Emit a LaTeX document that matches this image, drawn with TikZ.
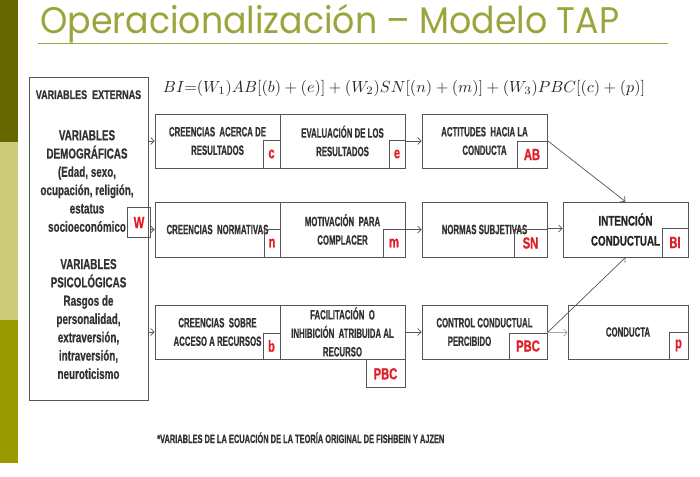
\documentclass[tikz,border=0pt]{standalone}
\usepackage{fontspec}
\usepackage{graphicx}
\usetikzlibrary{arrows.meta}
\newfontfamily\cndbox[FakeStretch=0.58,FakeBold=0.6]{Liberation Sans}
\newfontfamily\cndleft[FakeStretch=0.68,FakeBold=0.6]{Liberation Sans}
\newfontfamily\cndtop[FakeStretch=0.72,FakeBold=0.6]{Liberation Sans}
\newfontfamily\cndlbl[FakeStretch=0.70,FakeBold=0.8]{Liberation Sans}
\newfontfamily\cndfoot[FakeStretch=0.62,FakeBold=0.5]{Liberation Sans}
\newfontfamily\ttl[FakeStretch=0.94]{Poppins}
\definecolor{titlecol}{RGB}{155,165,60}
\definecolor{stripeA}{RGB}{102,102,0}
\definecolor{stripeB}{RGB}{204,204,120}
\definecolor{stripeC}{RGB}{153,153,0}
\definecolor{boxgray}{RGB}{85,85,85}
\definecolor{txtgray}{RGB}{50,50,50}
\definecolor{lblred}{RGB}{225,30,40}
\tikzset{
  box/.style={draw=boxgray, line width=0.8pt, inner sep=0pt, align=center, text=txtgray,
    font=\cndbox\bfseries\fontsize{13.5}{18.5}\selectfont},
  lbl/.style={draw=boxgray, line width=0.8pt, inner sep=0pt, text=lblred,
    font=\cndlbl\bfseries\fontsize{16}{16}\selectfont},
  plain/.style={inner sep=0pt, align=center, text=txtgray,
    font=\cndleft\bfseries\fontsize{14.5}{18.3}\selectfont},
  arr/.style={draw=boxgray, line width=0.7pt, -{Straight Barb[length=3.5pt,width=7pt]}},
}
\begin{document}
\begin{tikzpicture}[x=1pt,y=-1pt]
\fill[white] (0,0) rectangle (700,476);
\useasboundingbox (0,0) rectangle (700,476);
% side stripe
\fill[stripeA] (0,0) rectangle (18,142);
\fill[stripeB] (0,142) rectangle (18,320);
\fill[stripeC] (0,320) rectangle (18,463);
% title
\node[anchor=base west, inner sep=0pt, text=titlecol] (title) at (40,34)
  {\ttl\fontsize{37}{37}\selectfont Operacionalización – Modelo TAP};
\draw[titlecol, line width=1pt] (38,44) -- (668,44);
% equation
\node[inner sep=0pt, text=black!85] (eq) at (404,88)
  {\resizebox{482pt}{!}{$BI{=}(W_1)AB[(b)+(e)]+(W_2)SN[(n)+(m)]+(W_3)PBC[(c)+(p)]$}};
% left box
\node[box, minimum width=119pt, minimum height=323pt] (ext) at (88.5,238.5) {};
\node[plain, anchor=base, font=\cndtop\bfseries\fontsize{12.5}{12.5}\selectfont] (ext1) at (88.5,99) {VARIABLES\ \ EXTERNAS};
\node[plain] (ext2) at (87,181)
  {VARIABLES\\DEMOGRÁFICAS\\(Edad, sexo,\\ocupación, religión,\\estatus\\socioeconómico};
\node[plain] (ext3) at (88.5,319)
  {VARIABLES\\PSICOLÓGICAS\\Rasgos de\\personalidad,\\extraversión,\\intraversión,\\neuroticismo};
\node[lbl, minimum width=23pt, minimum height=30pt] (w) at (139,222.5) {W};
% row 1
\node[box, minimum width=125pt, minimum height=54pt] (r1a) at (217.5,141)
  {CREENCIAS\ \ ACERCA DE\\RESULTADOS};
\node[box, minimum width=125pt, minimum height=54pt] (r1b) at (342.5,141)
  {EVALUACIÓN DE LOS\\RESULTADOS};
\node[box, minimum width=125pt, minimum height=54pt] (ab) at (484.5,141)
  {ACTITUDES\ \ HACIA LA\\CONDUCTA};
\node[lbl, anchor=south east, minimum width=17pt, minimum height=28pt] (cl) at (r1a.south east) {c};
\node[lbl, anchor=south east, minimum width=16pt, minimum height=28pt] (el) at (r1b.south east) {e};
\node[lbl, anchor=south east, minimum width=30pt, minimum height=27pt] (abl) at (ab.south east) {AB};
% row 2
\node[box, minimum width=125pt, minimum height=55pt] (r2a) at (217.5,229.5)
  {CREENCIAS\ \ NORMATIVAS};
\node[box, minimum width=125pt, minimum height=55pt] (r2b) at (342.5,229.5)
  {MOTIVACIÓN\ \ PARA\\COMPLACER};
\node[box, minimum width=125pt, minimum height=55pt] (sn) at (484.5,229.5)
  {NORMAS SUBJETIVAS};
\node[box, minimum width=125pt, minimum height=55pt, font=\cndlbl\bfseries\fontsize{14}{20}\selectfont, text=black!85] (bi) at (625.5,229.5)
  {INTENCIÓN\\CONDUCTUAL};
\node[lbl, anchor=south east, minimum width=16pt, minimum height=28pt] (nl) at (r2a.south east) {n};
\node[lbl, anchor=south east, minimum width=22pt, minimum height=28pt] (ml) at (r2b.south east) {m};
\node[lbl, anchor=south east, minimum width=33pt, minimum height=28pt] (snl) at (sn.south east) {SN};
\node[lbl, anchor=south east, minimum width=26pt, minimum height=29pt] (bil) at (bi.south east) {BI};
% row 3
\node[box, minimum width=125pt, minimum height=54pt] (r3a) at (217.5,332)
  {CREENCIAS\ \ SOBRE\\ACCESO A RECURSOS};
\node[box, minimum width=125pt, minimum height=54pt] (r3b) at (342.5,332)
  {FACILITACIÓN\ \ O\\INHIBICIÓN\ \ ATRIBUIDA AL\\RECURSO};
\node[box, minimum width=125pt, minimum height=54pt] (ctrl) at (484.5,332)
  {CONTROL CONDUCTUAL\\PERCIBIDO\hspace*{30pt}};
\node[box, minimum width=120pt, minimum height=54pt] (cond) at (628,332)
  {CONDUCTA};
\node[lbl, anchor=south east, minimum width=17pt, minimum height=26pt] (bl) at (r3a.south east) {b};
\node[lbl, anchor=north east, minimum width=39pt, minimum height=28pt] (pbcl) at (r3b.south east) {PBC};
\node[lbl, anchor=south east, minimum width=38pt, minimum height=26pt] (ctrll) at (ctrl.south east) {PBC};
\node[lbl, anchor=south east, minimum width=19pt, minimum height=27pt] (pl) at (cond.south east) {p};
% connectors
\draw[arr] (ext.east |- r1a.west) -- (r1a.west);
\draw[arr] (w.east |- r2a.west) -- (r2a.west);
\draw[arr] (ext.east |- r3a.west) -- (r3a.west);
\draw[arr] (r1b.east) -- (ab.west);
\draw[arr] (r2b.east) -- (sn.west);
\draw[arr] (r3b.east) -- (ctrl.west);
\draw[arr] (snl.north east) -- (bi.west |- snl.north east);
\draw[arr] (abl.north east) -- (bi.north);
\draw[arr] (ctrll.north east) -- (bi.south);
\draw[arr, draw=black!35] (ctrll.north east) -- (cond.west |- ctrll.north east);
% footnote
\node[plain, anchor=base west, font=\cndfoot\bfseries\fontsize{12}{12}\selectfont] (foot) at (157,443)
  {*VARIABLES DE LA ECUACIÓN DE LA TEORÍA ORIGINAL DE FISHBEIN Y AJZEN};
\end{tikzpicture}
\end{document}
